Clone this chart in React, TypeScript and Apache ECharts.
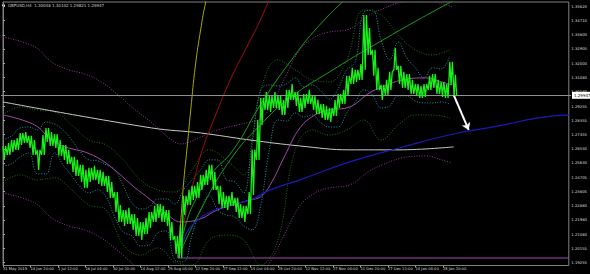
import React, { useEffect, useRef } from "react";
import * as echarts from "echarts";

// ---- Data (H4 bar index on x, price on y) ----
const title = "GBPUSD,H4  1.30048 1.30102 1.29821 1.29947";
const currentPrice = 1.29947;

const xTickBars = [0, 64, 128, 192, 256, 320, 384, 448, 512, 576, 640, 704, 768, 832, 896, 960, 1024];
const xLabels = [
  "31 May 2019", "14 Jun 20:00", "1 Jul 12:00", "16 Jul 04:00", "30 Jul 20:00", "14 Aug 12:00",
  "29 Aug 04:00", "12 Sep 20:00", "27 Sep 12:00", "14 Oct 04:00", "28 Oct 20:00", "12 Nov 12:00",
  "27 Nov 04:00", "11 Dec 20:00", "27 Dec 12:00", "14 Jan 04:00", "28 Jan 20:00",
];
const yTicks = [
  1.3562, 1.3471, 1.338, 1.32905, 1.32, 1.3108, 1.3018, 1.29255, 1.28355, 1.27455,
  1.2653, 1.2563, 1.24705, 1.23805, 1.2288, 1.2198, 1.2108, 1.20155, 1.19255,
];

const priceStep = 10; // bars between samples
const priceHigh = [
  1.2671, 1.269, 1.2709, 1.2722, 1.2754, 1.276, 1.2735, 1.2709, 1.2646, 1.2741,
  1.2786, 1.276, 1.2747, 1.2709, 1.2677, 1.2646, 1.2601, 1.2582, 1.255, 1.2518,
  1.2531, 1.2544, 1.2518, 1.2505, 1.248, 1.2441, 1.2377, 1.2294, 1.2262, 1.2275,
  1.2236, 1.2211, 1.2185, 1.2211, 1.2249, 1.2288, 1.23, 1.2288, 1.2262, 1.2185,
  1.2096, 1.2166, 1.2352, 1.239, 1.2416, 1.2441, 1.2486, 1.2518, 1.255, 1.2505,
  1.2416, 1.2377, 1.2352, 1.2377, 1.2339, 1.23, 1.2288, 1.2377, 1.2646, 1.2837,
  1.2978, 1.3016, 1.2991, 1.3016, 1.2991, 1.2965, 1.3029, 1.3067, 1.3016, 1.2978,
  1.3003, 1.3029, 1.2991, 1.2965, 1.2939, 1.2927, 1.2914, 1.2965, 1.3003, 1.3029,
  1.3119, 1.317, 1.3157, 1.3195, 1.3508, 1.3425, 1.3285, 1.317, 1.3061, 1.3093,
  1.3144, 1.3297, 1.3183, 1.3144, 1.3131, 1.3093, 1.3067, 1.3055, 1.3067, 1.3119,
  1.3131, 1.3093, 1.308, 1.3067, 1.3208, 1.3125,
];
const priceLow = [
  1.2582, 1.2614, 1.2633, 1.2646, 1.2677, 1.269, 1.2658, 1.2614, 1.2518, 1.2614,
  1.2696, 1.2671, 1.2658, 1.2608, 1.2582, 1.2556, 1.2505, 1.248, 1.2441, 1.2403,
  1.2441, 1.2454, 1.2428, 1.2416, 1.2377, 1.2339, 1.2249, 1.2185, 1.216, 1.2172,
  1.2134, 1.2096, 1.207, 1.2108, 1.2147, 1.2185, 1.2211, 1.2185, 1.216, 1.207,
  1.1981, 1.1956, 1.223, 1.2294, 1.2326, 1.2339, 1.239, 1.2422, 1.2454, 1.239,
  1.23, 1.2275, 1.2262, 1.2288, 1.2249, 1.2211, 1.2185, 1.2236, 1.2358, 1.2582,
  1.2805, 1.2901, 1.2888, 1.2914, 1.2901, 1.2869, 1.2914, 1.2965, 1.2927, 1.2888,
  1.2914, 1.2939, 1.2901, 1.2875, 1.285, 1.2837, 1.2824, 1.2863, 1.2914, 1.2939,
  1.2991, 1.3067, 1.308, 1.3093, 1.3157, 1.3253, 1.3119, 1.3029, 1.2965, 1.2997,
  1.3029, 1.3157, 1.3067, 1.3042, 1.3029, 1.3003, 1.2991, 1.2978, 1.2984, 1.3029,
  1.3042, 1.3003, 1.2984, 1.2978, 1.3061, 1.2991,
];

const cyanStep = 20;
const cyanUpper = [
  1.2709, 1.2735, 1.2786, 1.2792, 1.2773, 1.2824, 1.2811, 1.2773, 1.2709, 1.2633,
  1.2582, 1.2576, 1.255, 1.2518, 1.2416, 1.2307, 1.2268, 1.2281, 1.2332, 1.2332,
  1.23, 1.239, 1.2454, 1.2518, 1.2582, 1.2582, 1.2454, 1.2441, 1.2371, 1.2709,
  1.3029, 1.3061, 1.3054, 1.3067, 1.3106, 1.3048, 1.3061, 1.3022, 1.2971, 1.3035,
  1.3157, 1.3208, 1.3527, 1.354, 1.3348, 1.3221, 1.3335, 1.3234, 1.317, 1.3106,
  1.317, 1.3163, 1.3246,
];
const cyanLower = [
  1.2544, 1.2556, 1.2601, 1.2627, 1.2492, 1.2492, 1.2627, 1.255, 1.248, 1.2409,
  1.2371, 1.239, 1.2345, 1.2217, 1.2121, 1.2096, 1.2032, 1.2038, 1.2115, 1.2128,
  1.1943, 1.193, 1.2102, 1.2262, 1.2352, 1.2262, 1.223, 1.2217, 1.216, 1.2134,
  1.2294, 1.2646, 1.2837, 1.283, 1.2882, 1.2856, 1.2869, 1.2818, 1.2792, 1.2792,
  1.2882, 1.2952, 1.3029, 1.2997, 1.2914, 1.2927, 1.2991, 1.2991, 1.2958, 1.2946,
  1.2946, 1.2952, 1.2939,
];

const greenStep = 40;
const greenUpper = [
  1.2869, 1.292, 1.2901, 1.2888, 1.2805, 1.2709, 1.2677, 1.2582, 1.2454, 1.239,
  1.2377, 1.2518, 1.2646, 1.2582, 1.2486, 1.3029, 1.3221, 1.3157, 1.3093, 1.308,
  1.3221, 1.354, 1.3508, 1.338, 1.3285, 1.3253, 1.3285,
];
const greenLower = [
  1.2441, 1.2486, 1.2454, 1.2467, 1.239, 1.2294, 1.2262, 1.2038, 1.1974, 1.2019,
  1.193, 1.191, 1.207, 1.2102, 1.207, 1.191, 1.207, 1.2646, 1.2773, 1.2741,
  1.2773, 1.2837, 1.2709, 1.2805, 1.2869, 1.2869, 1.285,
];

const maBars = [0, 74, 113, 153, 190, 229, 268, 305, 344, 384, 414, 460, 499, 575, 599, 622, 657, 691, 726, 760, 807, 853, 883, 929, 985, 1021, 1045];
const purpleMa = [
  1.2869, 1.2805, 1.2709, 1.2658, 1.2633, 1.2582, 1.2499, 1.2409, 1.2326, 1.223,
  1.2185, 1.2205, 1.2262, 1.2326, 1.2345, 1.2422, 1.2614, 1.2786, 1.2869, 1.2901,
  1.292, 1.301, 1.3048, 1.3093, 1.3106, 1.308, 1.3061,
];
const purpleEnvUpper = [
  1.3368, 1.3304, 1.3208, 1.3157, 1.3131, 1.308, 1.2997, 1.2908, 1.2824, 1.2728,
  1.2684, 1.2728, 1.2773, 1.2824, 1.2843, 1.292, 1.3112, 1.3285, 1.3368, 1.3399,
  1.3419, 1.3508, 1.3546, 1.3591, 1.3604, 1.358, 1.3561,
];
const purpleEnvLower = [
  1.2371, 1.2307, 1.2211, 1.216, 1.2134, 1.2083, 1.2, 1.191, 1.183, 1.173,
  1.169, 1.171, 1.177, 1.183, 1.186, 1.193, 1.2115, 1.2288, 1.2371, 1.2403,
  1.2422, 1.2511, 1.255, 1.2595, 1.2607, 1.2582, 1.2563,
];

const whiteMaBars = [0, 346, 460, 575, 691, 807, 922, 1049];
const whiteMa = [1.2952, 1.2786, 1.2754, 1.2709, 1.2671, 1.2646, 1.2646, 1.2665];

const yellowBars = [407, 414, 421, 428, 437, 448, 460, 472, 480];
const yellowFan = [1.1956, 1.2198, 1.2454, 1.2646, 1.2901, 1.3188, 1.3412, 1.3591, 1.366];
const redBars = [407, 425, 448, 464, 495, 529, 564, 599, 630];
const redFan = [1.1956, 1.223, 1.2486, 1.2646, 1.2869, 1.3093, 1.3285, 1.3476, 1.368];
const green1Bars = [407, 425, 448, 483, 536, 599, 668, 737, 810];
const green1Fan = [1.1956, 1.2166, 1.2326, 1.2486, 1.2646, 1.2933, 1.3208, 1.3444, 1.364];
const green2Bars = [407, 460, 529, 599, 668, 760, 876, 1008, 1084];
const green2Fan = [1.1956, 1.2262, 1.2582, 1.2805, 1.2978, 1.3144, 1.3335, 1.354, 1.365];
const blueBars = [407, 425, 448, 483, 529, 575, 622, 691, 807, 922, 1038, 1153, 1246, 1317];
const blueFan = [1.1956, 1.2102, 1.2185, 1.2249, 1.2294, 1.2326, 1.239, 1.2454, 1.2569, 1.2658, 1.2741, 1.2799, 1.285, 1.2869];

const lowLevelBars = [407, 1317];
const lowLevel = 1.1955;
const arrowFrom = [1049, 1.2997];
const arrowTo = [1084, 1.2773];

const zip = (xs: number[], ys: number[]) => xs.map((x, i) => [x, ys[i]]);
const stepped = (step: number, ys: number[]) => ys.map((y, i) => [i * step, y]);

export default function App() {
  const ref = useRef<HTMLDivElement>(null);
  useEffect(() => {
    document.body.style.margin = "0";
    document.body.style.background = "#000";
    const chart = echarts.init(ref.current!, null, { renderer: "svg" });
    const dotted = (name: string, data: number[][], color: string) => ({
      name, type: "line", data, showSymbol: false, smooth: 0.4, silent: true,
      lineStyle: { color, width: 1, type: [1, 1.6] }, z: 2,
    });
    const solid = (name: string, data: number[][], color: string, smooth: boolean | number = 0.3, width = 1) => ({
      name, type: "line", data, showSymbol: false, smooth, silent: true,
      lineStyle: { color, width }, z: 3,
    });
    // price path: each sample's high then low, as a jagged bar trace
    const priceTrace: number[][] = [];
    priceHigh.forEach((h, i) => {
      const b = i * priceStep;
      if (i % 2 === 0) {
        priceTrace.push([b, h], [b + 3, priceLow[i]], [b + 6, h]);
      } else {
        priceTrace.push([b, priceLow[i]], [b + 3, h], [b + 6, priceLow[i]]);
      }
    });
    chart.setOption({
      animation: false,
      backgroundColor: "#000",
      grid: { left: 1, right: 19, top: 2, bottom: 8.5, show: true, borderColor: "#808080", borderWidth: 1 },
      xAxis: {
        type: "value", min: 0, max: 1317,
        axisLine: { show: false }, splitLine: { show: false },
        axisTick: { show: true, customValues: xTickBars, length: 2, lineStyle: { color: "#aaa" } },
        axisLabel: {
          customValues: xTickBars, color: "#ddd", fontSize: 3.7, fontFamily: "DejaVu Sans",
          align: "left", margin: 1.5,
          formatter: (v: number) => { const k = xTickBars.indexOf(v); return k >= 0 ? xLabels[k] : ""; },
        },
      },
      yAxis: {
        type: "value", position: "right", min: 1.1907, max: 1.35908, scale: true,
        splitLine: { show: false },
        axisLine: { show: true, lineStyle: { color: "#808080" } },
        axisTick: { show: true, customValues: yTicks, length: 2, lineStyle: { color: "#aaa" } },
        axisLabel: {
          customValues: yTicks, color: "#ddd", fontSize: 3.8, fontFamily: "DejaVu Sans", margin: 2.5,
          formatter: (v: number) => v.toFixed(5),
        },
      },
      series: [
        solid("white MA", zip(whiteMaBars, whiteMa), "#c8c8c8", 0.4),
        dotted("env upper", zip(maBars, purpleEnvUpper), "#8a3c96"),
        dotted("env lower", zip(maBars, purpleEnvLower), "#8a3c96"),
        dotted("green upper", stepped(greenStep, greenUpper), "#1c6e1c"),
        dotted("green lower", stepped(greenStep, greenLower), "#1c6e1c"),
        dotted("cyan upper", stepped(cyanStep, cyanUpper), "#1b9a9a"),
        dotted("cyan lower", stepped(cyanStep, cyanLower), "#1b9a9a"),
        solid("purple MA", zip(maBars, purpleMa), "#a04aa8", 0.4),
        solid("yellow", zip(yellowBars, yellowFan), "#a8a800", true),
        solid("red", zip(redBars, redFan), "#a00e0e", true),
        solid("green1", zip(green1Bars, green1Fan), "#1e9a1e", true),
        solid("green2", zip(green2Bars, green2Fan), "#1e9a1e", true),
        solid("blue", zip(blueBars, blueFan), "#1a1ab8", true, 1.2),
        solid("low level", lowLevelBars.map((b) => [b, lowLevel]), "#a04aa8", false),
        {
          name: "price", type: "line", data: priceTrace, z: 5, showSymbol: false, silent: true,
          lineStyle: { color: "#18f018", width: 1.3 },
        },
        {
          name: "marks", type: "line", data: [], z: 6,
          markLine: {
            silent: true, animation: false,
            data: [
              [
                { yAxis: currentPrice, x: 1, symbol: "none" },
                { yAxis: currentPrice, x: 571, symbol: "none" },
              ],
              [
                { coord: arrowFrom, symbol: "none", lineStyle: { color: "#fff", width: 2, type: "solid" }, label: { show: false } },
                { coord: arrowTo, symbol: "arrow", symbolSize: 7 },
              ],
            ],
            lineStyle: { color: "#909090", width: 1, type: "solid" },
            label: {
              show: true, position: "end", distance: 1,
              formatter: () => currentPrice.toFixed(5),
              backgroundColor: "#fff", color: "#000", fontSize: 4, fontFamily: "DejaVu Sans", padding: [1.5, 2],
            },
          },
        },
      ],
      graphic: [
        { type: "rect", left: 2, top: 4.5, shape: { width: 3, height: 1.5 }, style: { fill: "#ddd" } },
        { type: "text", left: 8, top: 3, style: { text: title, fill: "#ccc", fontSize: 4, fontFamily: "DejaVu Sans" } },
      ],
    });
    return () => chart.dispose();
  }, []);
  return <div ref={ref} style={{ width: 590, height: 274, background: "#000" }} />;
}
